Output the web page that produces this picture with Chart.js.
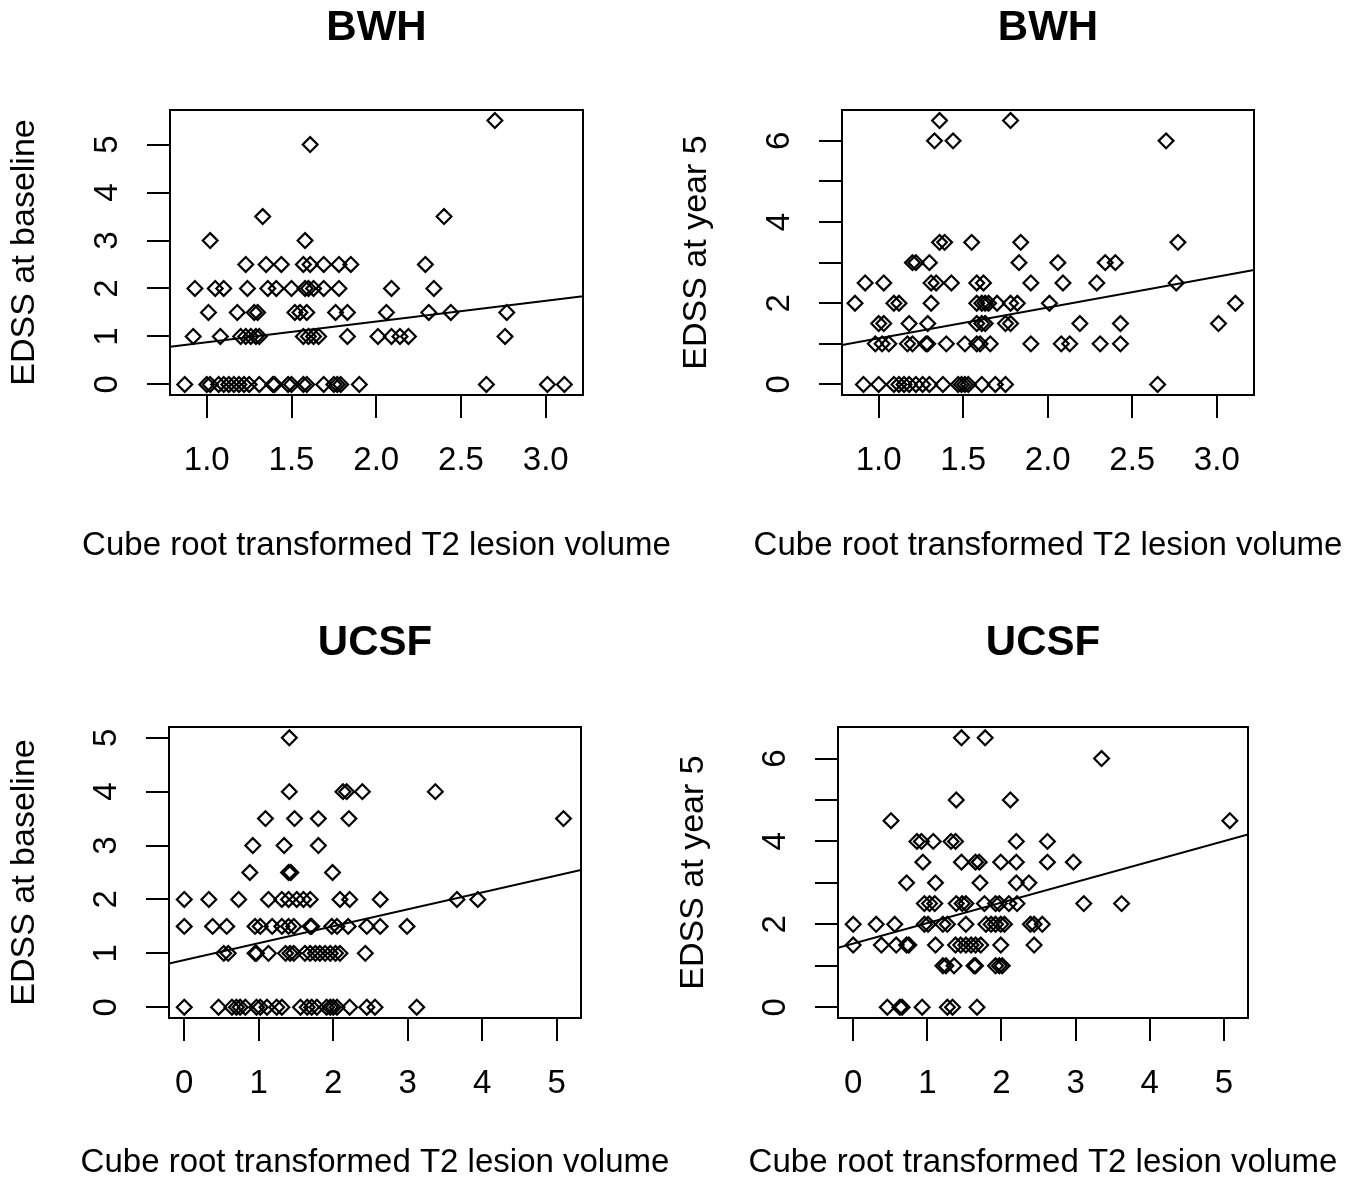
<!DOCTYPE html>
<html>
<head>
<meta charset="utf-8">
<title>EDSS vs T2 lesion volume</title>
<script src="https://cdn.jsdelivr.net/npm/chart.js@4.4.1/dist/chart.umd.min.js"></script>
<style>
  html, body { margin: 0; padding: 0; background: #fff; }
  #wrap { position: relative; width: 1361px; height: 1188px; overflow: hidden; background: #fff; }
  #wrap canvas { position: absolute; }
</style>
</head>
<body>
<div id="wrap">
  <canvas id="bwh-base" width="680" height="570" style="left:0px;top:0px"></canvas>
  <canvas id="bwh-year5" width="680" height="570" style="left:672px;top:0px"></canvas>
  <canvas id="ucsf-base" width="680" height="570" style="left:0px;top:617px"></canvas>
  <canvas id="ucsf-year5" width="680" height="570" style="left:669px;top:617px"></canvas>
</div>
<script>
// EDSS levels (rows) and the T2 values sitting on each row
const bwhBaseEdss = [5.5, 5, 3.5, 3, 2.5, 2, 1.5, 1, 0];
const bwhBaseT2 = [
  [2.70],
  [1.61],
  [1.33, 2.40],
  [1.02, 1.58],
  [1.23, 1.35, 1.44, 1.57, 1.61, 1.69, 1.78, 1.85, 2.29],
  [0.93, 1.05, 1.10, 1.24, 1.36, 1.41, 1.50, 1.58, 1.60, 1.63, 1.69, 1.78, 2.09, 2.34],
  [1.01, 1.18, 1.28, 1.30, 1.52, 1.55, 1.59, 1.76, 1.83, 2.06, 2.31, 2.44, 2.77],
  [0.92, 1.08, 1.20, 1.23, 1.26, 1.29, 1.31, 1.57, 1.60, 1.63, 1.66, 1.83, 2.01, 2.09, 2.14, 2.19, 2.76],
  [0.87, 1.00, 1.02, 1.07, 1.10, 1.13, 1.16, 1.19, 1.22, 1.25, 1.31, 1.39, 1.40, 1.48, 1.50, 1.57, 1.59, 1.69, 1.75, 1.77, 1.79, 1.90, 2.65, 3.01, 3.11]
];

const bwhYear5Edss = [6.5, 6, 3.5, 3, 2.5, 2, 1.5, 1, 0];
const bwhYear5T2 = [
  [1.36, 1.78],
  [1.33, 1.44, 2.70],
  [1.36, 1.39, 1.55, 1.84, 2.77],
  [1.20, 1.22, 1.30, 1.83, 2.06, 2.34, 2.40],
  [0.92, 1.03, 1.31, 1.34, 1.43, 1.58, 1.62, 1.90, 2.09, 2.29, 2.76],
  [0.86, 1.09, 1.12, 1.31, 1.58, 1.61, 1.63, 1.65, 1.70, 1.78, 1.82, 2.01, 3.11],
  [1.00, 1.03, 1.18, 1.29, 1.58, 1.61, 1.63, 1.75, 1.78, 2.19, 2.43, 3.01],
  [0.98, 1.02, 1.06, 1.17, 1.20, 1.28, 1.29, 1.40, 1.51, 1.58, 1.60, 1.66, 1.90, 2.08, 2.13, 2.31, 2.43],
  [0.91, 1.00, 1.09, 1.12, 1.15, 1.18, 1.22, 1.26, 1.30, 1.38, 1.47, 1.49, 1.51, 1.53, 1.61, 1.69, 1.75, 2.65]
];

const ucsfBaseEdss = [5, 4, 3.5, 3, 2.5, 2, 1.5, 1, 0];
const ucsfBaseT2 = [
  [1.41],
  [1.41, 2.13, 2.18, 2.39, 3.37],
  [1.09, 1.48, 1.80, 2.21, 5.09],
  [0.92, 1.34, 1.80],
  [0.88, 1.40, 1.43, 1.99],
  [0.00, 0.33, 0.73, 1.13, 1.31, 1.40, 1.51, 1.60, 1.69, 2.09, 2.22, 2.63, 3.66, 3.94],
  [0.00, 0.38, 0.57, 0.95, 1.02, 1.18, 1.31, 1.40, 1.47, 1.69, 1.71, 1.98, 2.05, 2.20, 2.45, 2.63, 2.99],
  [0.53, 0.59, 0.95, 0.97, 1.13, 1.36, 1.42, 1.47, 1.62, 1.69, 1.76, 1.82, 1.89, 1.96, 2.03, 2.09, 2.43],
  [0.00, 0.46, 0.64, 0.70, 0.75, 0.82, 0.97, 1.02, 1.11, 1.24, 1.31, 1.56, 1.65, 1.71, 1.78, 1.91, 1.96, 2.00, 2.05, 2.22, 2.45, 2.56, 3.12]
];

const ucsfYear5Edss = [6.5, 6, 5, 4.5, 4, 3.5, 3, 2.5, 2, 1.5, 1, 0];
const ucsfYear5T2 = [
  [1.46, 1.78],
  [3.35],
  [1.39, 2.12],
  [0.51, 5.08],
  [0.86, 0.92, 1.08, 1.32, 1.38, 2.20, 2.62],
  [0.94, 1.46, 1.65, 1.70, 1.99, 2.20, 2.62, 2.97],
  [0.72, 1.11, 1.71, 2.20, 2.37],
  [0.96, 1.03, 1.10, 1.39, 1.47, 1.52, 1.77, 1.92, 1.97, 2.10, 2.21, 3.11, 3.62],
  [0.00, 0.31, 0.56, 0.96, 1.01, 1.21, 1.27, 1.52, 1.79, 1.86, 1.92, 1.99, 2.04, 2.39, 2.44, 2.55],
  [0.00, 0.38, 0.58, 0.72, 0.75, 1.11, 1.38, 1.45, 1.52, 1.59, 1.65, 1.72, 1.99, 2.44],
  [1.21, 1.25, 1.36, 1.63, 1.65, 1.92, 1.97, 2.01],
  [0.46, 0.63, 0.66, 0.93, 1.27, 1.34, 1.67]
];

// regression lines: [intercept, slope]
const bwhBaseFit = [0.45, 0.431];
const bwhYear5Fit = [0.38, 0.757];
const ucsfBaseFit = [0.874, 0.314];
const ucsfYear5Fit = [1.537, 0.494];

// ticks and labels
const bwhXTicks = [1.0, 1.5, 2.0, 2.5, 3.0];
const bwhXLabels = ["1.0", "1.5", "2.0", "2.5", "3.0"];
const ucsfXTicks = [0, 1, 2, 3, 4, 5];
const ucsfXLabels = ["0", "1", "2", "3", "4", "5"];
const baseYTicks = [0, 1, 2, 3, 4, 5];
const baseYLabels = ["0", "1", "2", "3", "4", "5"];
const year5YTicks = [0, 1, 2, 3, 4, 5, 6];
const year5YLabels = ["0", "", "2", "", "4", "", "6"];

const xTitle = "Cube root transformed T2 lesion volume";

const FONT = "'Liberation Sans', Arial, Helvetica, sans-serif";
Chart.defaults.font.family = FONT;
Chart.defaults.color = "#000";

// R style box round the plot region
const boxPlugin = {
    id: "rbox",
    afterDatasetsDraw(chart) {
        const a = chart.chartArea;
        const c = chart.ctx;
        c.save();
        c.strokeStyle = "#000";
        c.lineWidth = 2;
        c.strokeRect(a.left, a.top, a.right - a.left, a.bottom - a.top);
        c.restore();
    }
};

// x axis title drawn wider than the plot region (chart.js would squeeze it)
const xTitlePlugin = {
    id: "xtitle",
    afterDraw(chart) {
        const a = chart.chartArea;
        const c = chart.ctx;
        c.save();
        c.fillStyle = "#000";
        c.font = "33px " + FONT;
        c.textAlign = "center";
        c.textBaseline = "middle";
        c.fillText(xTitle, (a.left + a.right) / 2, chart.height - 24);
        c.restore();
    }
};

function makePanel(id, p) {
    const canvas = document.getElementById(id);
    let pts = [];
    p.levels.forEach((lvl, i) => {
        p.t2[i].forEach(v => pts.push({ x: v, y: lvl }));
    });
    const fitLine = [p.xMin, p.xMax].map(x => ({ x: x, y: p.fit[0] + p.fit[1] * x }));

    const axisGrid = { display: true, drawOnChartArea: false, drawTicks: true, tickLength: 23, color: "#000", lineWidth: 2 };
    const axisBorder = { display: true, color: "#000", width: 2 };

    return new Chart(canvas, {
        type: "scatter",
        data: {
            datasets: [
                {
                    data: pts,
                    pointStyle: "rectRot",
                    pointRadius: 7.4,
                    pointBorderWidth: 2.2,
                    pointBorderColor: "#000",
                    pointBackgroundColor: "rgba(0,0,0,0)"
                },
                {
                    type: "line",
                    data: fitLine,
                    borderColor: "#000",
                    borderWidth: 2,
                    pointRadius: 0,
                    fill: false
                }
            ]
        },
        options: {
            responsive: false,
            animation: false,
            events: [],
            layout: { padding: { left: 0, top: 0, right: canvas.width - p.area.right, bottom: 0 } },
            plugins: {
                legend: { display: false },
                tooltip: { enabled: false },
                title: {
                    display: true,
                    text: p.title,
                    fullSize: false,
                    color: "#000",
                    font: { size: 42, weight: "bold" },
                    padding: { top: p.titleTop, bottom: p.area.top - 50.4 - p.titleTop }
                }
            },
            scales: {
                x: {
                    type: "linear",
                    bounds: "data",
                    min: p.xMin,
                    max: p.xMax,
                    afterBuildTicks: s => { s.ticks = p.xTicks.map(v => ({ value: v })); },
                    afterFit: s => { s.height = canvas.height - p.area.bottom; },
                    ticks: {
                        callback: (v, i) => p.xLabels[i],
                        font: { size: 33 },
                        padding: 23.5,
                        autoSkip: false,
                        minRotation: 0,
                        maxRotation: 0
                    },
                    grid: axisGrid,
                    border: axisBorder,
                    title: { display: false }
                },
                y: {
                    type: "linear",
                    bounds: "data",
                    min: p.yMin,
                    max: p.yMax,
                    afterBuildTicks: s => { s.ticks = p.yTicks.map(v => ({ value: v })); },
                    afterFit: s => { s.width = p.area.left; },
                    ticks: {
                        callback: (v, i) => p.yLabels[i],
                        font: { size: 33 },
                        padding: 30,
                        autoSkip: false,
                        minRotation: 90,
                        maxRotation: 90,
                        crossAlign: "center"
                    },
                    grid: axisGrid,
                    border: axisBorder,
                    title: { display: true, text: p.yTitle, font: { size: 34 }, padding: { top: 4.6, bottom: 0 } }
                }
            }
        },
        plugins: [boxPlugin, xTitlePlugin]
    });
}

makePanel("bwh-base", {
    title: "BWH", yTitle: "EDSS at baseline",
    levels: bwhBaseEdss, t2: bwhBaseT2, fit: bwhBaseFit,
    xMin: 0.783, xMax: 3.22, yMin: -0.22, yMax: 5.72,
    xTicks: bwhXTicks, xLabels: bwhXLabels, yTicks: baseYTicks, yLabels: baseYLabels,
    area: { left: 170, top: 110, right: 583, bottom: 395 }, titleTop: 2.8
});

makePanel("bwh-year5", {
    title: "BWH", yTitle: "EDSS at year 5",
    levels: bwhYear5Edss, t2: bwhYear5T2, fit: bwhYear5Fit,
    xMin: 0.783, xMax: 3.22, yMin: -0.26, yMax: 6.76,
    xTicks: bwhXTicks, xLabels: bwhXLabels, yTicks: year5YTicks, yLabels: year5YLabels,
    area: { left: 170, top: 110, right: 582, bottom: 395 }, titleTop: 2.8
});

makePanel("ucsf-base", {
    title: "UCSF", yTitle: "EDSS at baseline",
    levels: ucsfBaseEdss, t2: ucsfBaseT2, fit: ucsfBaseFit,
    xMin: -0.205, xMax: 5.325, yMin: -0.2, yMax: 5.2,
    xTicks: ucsfXTicks, xLabels: ucsfXLabels, yTicks: baseYTicks, yLabels: baseYLabels,
    area: { left: 169, top: 110, right: 581, bottom: 401 }, titleTop: 0.8
});

makePanel("ucsf-year5", {
    title: "UCSF", yTitle: "EDSS at year 5",
    levels: ucsfYear5Edss, t2: ucsfYear5T2, fit: ucsfYear5Fit,
    xMin: -0.205, xMax: 5.325, yMin: -0.26, yMax: 6.76,
    xTicks: ucsfXTicks, xLabels: ucsfXLabels, yTicks: year5YTicks, yLabels: year5YLabels,
    area: { left: 169, top: 110, right: 579, bottom: 401 }, titleTop: 0.8
});
</script>
</body>
</html>
